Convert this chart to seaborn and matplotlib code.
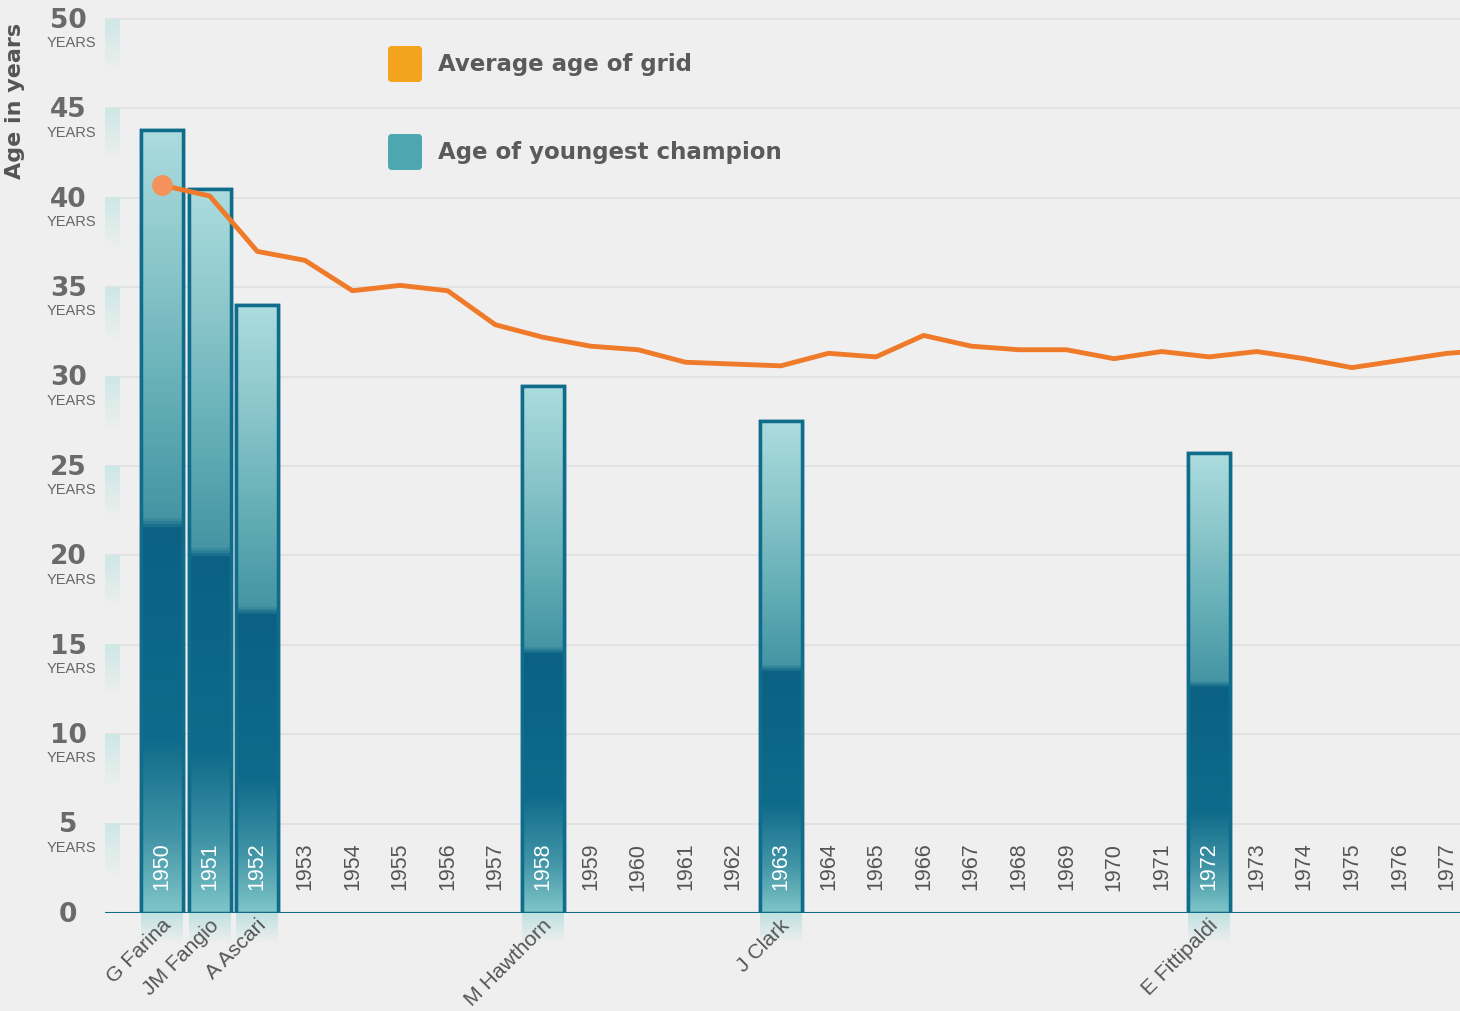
import numpy as np
import pandas as pd
import matplotlib
matplotlib.use("Agg")
import matplotlib.pyplot as plt
import seaborn as sns
from matplotlib.colors import LinearSegmentedColormap
from matplotlib.patches import Rectangle, FancyBboxPatch

# ---------------- data ----------------
years = list(range(1950, 1979))
avg_age = [40.7, 40.1, 37.0, 36.5, 34.8, 35.1, 34.8, 32.9, 32.2, 31.7,
           31.5, 30.8, 30.7, 30.6, 31.3, 31.1, 32.3, 31.7, 31.5, 31.5,
           31.0, 31.4, 31.1, 31.4, 31.0, 30.5, 30.9, 31.3, 31.5]
champ_years = [1950, 1951, 1952, 1958, 1963, 1972]
champ_ages = [43.8, 40.5, 34.0, 29.5, 27.5, 25.7]
champ_names = ["G Farina", "JM Fangio", "A Ascari", "M Hawthorn", "J Clark", "E Fittipaldi"]
label_years = list(range(1950, 1978))
y_ticks = [0, 5, 10, 15, 20, 25, 30, 35, 40, 45, 50]
legend_labels = ["Average age of grid", "Age of youngest champion"]

BG = "#efefef"
ORANGE = "#ef7a2a"

sns.set_theme(style="white")
plt.rcParams["font.family"] = ["DejaVu Sans"]

W, H = 1460, 1012
fig = plt.figure(figsize=(W / 100, H / 100), dpi=100, facecolor=BG)
ax = fig.add_axes([105 / W, 98 / H, 1355 / W, 903 / H])
ax.set_facecolor(BG)

XMIN, XMAX, YMIN, YMAX = 1948.80, 1977.27, 0, 50.5

# gridlines
for v in y_ticks[1:]:
    ax.axhline(v, color="#e2e2e2", lw=1.4, zorder=0)

# decorative teal tick blocks on left
tick_grad = np.linspace(0, 1, 100).reshape(-1, 1)
tick_cmap = LinearSegmentedColormap.from_list("tk", [BG, "#cde8e5"])
for v in y_ticks[1:]:
    ax.imshow(tick_grad, cmap=tick_cmap, origin="lower", aspect="auto",
              extent=[0, 0.011, v - 3.0, v], transform=ax.get_yaxis_transform(),
              zorder=0.5)

# bars
df_champ = pd.DataFrame({"year": champ_years, "age": champ_ages})
sns.barplot(data=df_champ, x="year", y="age", native_scale=True, width=0.88,
            color="#4aa3ad", edgecolor="#0f6c8a", linewidth=2.5, ax=ax, zorder=2)

bar_cmap = LinearSegmentedColormap.from_list("bar", [
    (0.00, "#7fc5c8"),
    (0.10, "#3f93a5"),
    (0.22, "#0f6b8b"),
    (0.49, "#0a6184"),
    (0.505, "#4595a4"),
    (0.65, "#62adb5"),
    (0.85, "#8fc9cd"),
    (1.00, "#acdcde"),
])
grad = np.linspace(0, 1, 512).reshape(-1, 1)
refl_cmap = LinearSegmentedColormap.from_list("refl", [BG, "#bfe0e0"])
for p in list(ax.patches):
    x0, y0 = p.get_x(), p.get_y()
    w, h = p.get_width(), p.get_height()
    im = ax.imshow(grad, cmap=bar_cmap, origin="lower", aspect="auto",
                   extent=[x0, x0 + w, y0, y0 + h], zorder=2.1)
    im.set_clip_path(p)
    r = ax.imshow(grad, cmap=refl_cmap, origin="lower", aspect="auto",
                  extent=[x0, x0 + w, -1.7, 0], zorder=1)
    r.set_clip_on(False)
    ax.add_patch(Rectangle((x0, y0), w, h, fill=False, edgecolor="#0f6c8a",
                           lw=2.5, zorder=2.2))

# average line
df_avg = pd.DataFrame({"year": years, "avg": avg_age})
sns.lineplot(data=df_avg, x="year", y="avg", color=ORANGE, lw=3.5, ax=ax, zorder=4)
ax.plot(years[0], avg_age[0], "o", color="#f3925a", ms=14, zorder=5)

# x axis line
ax.axhline(0, color="#0f6c82", lw=2.2, zorder=3)

# year labels inside plot
for yr in label_years:
    on_bar = yr in champ_years
    ax.text(yr, 2.65, str(yr), rotation=90, ha="center", va="center",
            fontsize=15.5, family=["Liberation Sans", "DejaVu Sans"],
            color="white" if on_bar else "#555555", zorder=6)

# champion names
for yr, name in zip(champ_years, champ_names):
    ax.text(yr - 0.02, -0.1, name, rotation=45, ha="right", va="top",
            rotation_mode="anchor", fontsize=15.2, color="#555555",
            family=["Liberation Sans", "DejaVu Sans"], clip_on=False)

# y tick labels
ytr = ax.get_yaxis_transform()
for v in y_ticks:
    ax.text(-0.027, v - 0.05, str(v), transform=ytr, ha="center", va="center",
            fontsize=19, fontweight="bold", color="#6a6a6a", clip_on=False)
    if v > 0:
        ax.text(-0.0245, v - 1.3, "YEARS", transform=ytr, ha="center", va="center",
                fontsize=10.5, color="#666666", clip_on=False,
                family=["Liberation Sans", "DejaVu Sans"])

fig.text(15 / W, 1 - 101 / H, "Age in years", rotation=90, ha="center", va="center",
         fontsize=16, fontweight="bold", color="#555555")

# legend (drawn manually in pixel space)
legend_colors = ["#f4a31f", "#4ea7b0"]
legend_rows = [65, 153]
for lab, col, yc in zip(legend_labels, legend_colors, legend_rows):
    box = FancyBboxPatch((390, H - yc - 16), 30, 32,
                         boxstyle="round,pad=2,rounding_size=4",
                         facecolor=col, edgecolor="none", transform=None,
                         figure=fig)
    fig.patches.append(box)
    fig.text(438 / W, 1 - (yc - 1) / H, lab, ha="left", va="center",
             fontsize=16.5, fontweight="bold", color="#5a5a5a")

ax.set_xlim(XMIN, XMAX)
ax.set_ylim(YMIN, YMAX)
ax.set_xticks([])
ax.set_yticks([])
ax.set_xlabel("")
ax.set_ylabel("")
for s in ax.spines.values():
    s.set_visible(False)

fig.savefig("out.png", dpi=100, facecolor=BG)
